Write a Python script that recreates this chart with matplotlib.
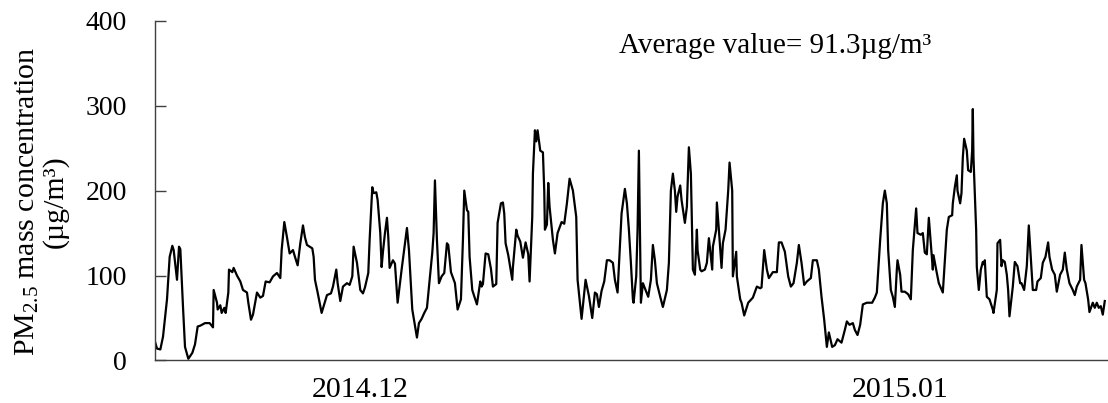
import matplotlib
matplotlib.use('Agg')
import matplotlib.pyplot as plt

# Stunden seit Messbeginn (Eckpunkte der Kurve)
hours = [0, 3, 8, 12, 18, 22, 26, 28, 33, 36, 38, 42, 45, 50, 56, 60, 64, 68, 75, 82,
         87, 88, 93, 94, 98, 100, 104, 106, 110, 111, 116, 118, 123, 128, 132, 138, 140, 144, 147, 153,
         158, 162, 166, 172, 177, 183, 188, 190, 194, 198, 202, 207, 210, 214, 218, 222, 225, 228, 236, 238,
         240, 244, 250, 258, 264, 267, 272, 274, 278, 282, 288, 292, 296, 298, 303, 308, 312, 315, 320, 322,
         326, 328, 332, 334, 338, 340, 342, 345, 348, 350, 352, 357, 360, 364, 370, 375, 378, 381, 386, 393,
         396, 400, 404, 408, 416, 418, 420, 423, 426, 430, 434, 438, 440, 444, 450, 454, 459, 462, 464, 468,
         470, 472, 476, 478, 483, 488, 490, 492, 496, 500, 504, 507, 512, 514, 519, 522, 524, 526, 530, 536,
         537, 542, 544, 548, 552, 556, 560, 562, 566, 567, 570, 572, 574, 578, 582, 584, 585, 588, 590, 592,
         597, 600, 604, 610, 614, 618, 622, 627, 632, 634, 640, 646, 651, 656, 660, 663, 666, 670, 674, 678,
         682, 687, 690, 694, 698, 700, 705, 708, 711, 714, 717, 718, 722, 724, 726, 729, 732, 736, 740, 744,
         747, 750, 753, 758, 762, 768, 771, 774, 777, 780, 782, 784, 788, 790, 795, 798, 800, 801, 804, 806,
         807, 810, 813, 814, 818, 820, 825, 828, 831, 836, 837, 842, 843, 846, 850, 852, 856, 860, 862, 866,
         867, 872, 873, 878, 880, 884, 890, 897, 903, 908, 910, 914, 918, 921, 927, 933, 936, 940, 945, 946,
         950, 954, 958, 963, 966, 970, 974, 978, 984, 987, 993, 996, 1000, 1004, 1008, 1011, 1016, 1020, 1024, 1030,
         1035, 1038, 1042, 1047, 1050, 1054, 1058, 1062, 1068, 1076, 1080, 1083, 1088, 1092, 1095, 1098, 1100, 1104, 1107, 1110,
         1113, 1114, 1118, 1120, 1125, 1130, 1134, 1137, 1142, 1144, 1149, 1152, 1155, 1158, 1161, 1164, 1167, 1168, 1172, 1176,
         1182, 1186, 1188, 1191, 1196, 1197, 1200, 1203, 1204, 1208, 1210, 1212, 1214, 1218, 1220, 1224, 1226, 1227, 1228, 1232,
         1233, 1236, 1239, 1242, 1244, 1245, 1248, 1252, 1257, 1258, 1263, 1264, 1268, 1270, 1272, 1275, 1278, 1280, 1282, 1287,
         1290, 1294, 1298, 1300, 1304, 1308, 1310, 1311, 1314, 1317, 1322, 1324, 1329, 1332, 1336, 1340, 1342, 1346, 1350, 1353,
         1358, 1362, 1365, 1368, 1372, 1377, 1380, 1383, 1388, 1390, 1394, 1396, 1400, 1402, 1407, 1410, 1413, 1416, 1419, 1422,
         1425]

# PM2.5 in µg/m³
pm25 = [22, 14, 13, 28, 72, 122, 135, 130, 95, 134, 131, 63, 16, 2, 9, 19, 40, 41, 44, 44,
        39, 83, 68, 60, 65, 56, 62, 56, 80, 107, 104, 109, 100, 93, 83, 80, 68, 48, 54, 80,
        74, 76, 93, 92, 99, 103, 97, 130, 163, 145, 126, 130, 122, 112, 138, 159, 145, 136, 132, 122,
        95, 80, 56, 77, 79, 87, 107, 91, 70, 87, 91, 89, 99, 134, 115, 83, 79, 86, 103, 142,
        204, 197, 198, 189, 150, 110, 128, 150, 168, 145, 109, 118, 114, 68, 107, 138, 156, 130, 60, 27,
        44, 49, 56, 62, 127, 150, 212, 142, 91, 99, 103, 138, 136, 104, 91, 60, 72, 142, 200, 177,
        175, 122, 83, 78, 66, 93, 87, 90, 126, 125, 108, 87, 90, 162, 185, 186, 173, 138, 124, 95,
        110, 154, 147, 140, 121, 139, 125, 93, 169, 220, 271, 258, 271, 247, 245, 200, 154, 160, 209, 181,
        142, 126, 150, 163, 161, 185, 214, 200, 169, 95, 49, 95, 76, 50, 80, 78, 63, 82, 93, 118,
        118, 115, 95, 80, 142, 173, 202, 185, 154, 115, 72, 68, 99, 154, 247, 68, 91, 83, 75, 95,
        136, 118, 91, 75, 63, 83, 115, 200, 220, 200, 175, 193, 206, 189, 162, 181, 228, 251, 220, 142,
        107, 101, 154, 130, 107, 105, 107, 115, 144, 107, 134, 154, 186, 154, 109, 138, 154, 200, 233, 200,
        99, 128, 99, 72, 68, 53, 68, 74, 87, 85, 86, 130, 107, 97, 104, 104, 139, 139, 128, 122,
        99, 87, 91, 115, 136, 115, 89, 93, 97, 118, 118, 107, 75, 48, 16, 33, 16, 18, 25, 21,
        36, 46, 42, 44, 36, 30, 42, 66, 68, 68, 74, 80, 142, 185, 200, 185, 130, 83, 75, 63,
        107, 118, 101, 81, 81, 78, 72, 130, 179, 150, 148, 150, 127, 125, 168, 138, 107, 124, 107, 91,
        80, 130, 154, 169, 171, 185, 204, 218, 200, 185, 197, 239, 261, 247, 224, 222, 247, 296, 239, 154,
        110, 83, 107, 116, 113, 118, 75, 72, 60, 56, 83, 138, 142, 111, 118, 116, 101, 83, 52, 87,
        116, 111, 91, 91, 83, 111, 142, 159, 122, 83, 83, 93, 97, 115, 122, 139, 122, 107, 101, 81,
        101, 107, 127, 107, 91, 83, 77, 87, 95, 136, 95, 91, 72, 57, 68, 62, 68, 62, 64, 54,
        70]

y_ticks = [0, 100, 200, 300, 400]
month_labels = ['2014.12', '2015.01']
month_pos = [308, 1118]  # Stunde unter der Beschriftung
mittelwert = 91.3

plt.rcParams['font.family'] = ['Liberation Serif', 'DejaVu Serif']
plt.rcParams['mathtext.fontset'] = 'custom'
plt.rcParams['mathtext.rm'] = 'Liberation Serif'
plt.rcParams['mathtext.default'] = 'rm'

fig = plt.figure(figsize=(11.08, 4.03), dpi=100)
ax = fig.add_axes([0.1399, 0.1055, 0.859, 0.8431])

ax.plot(hours, pm25, color='black', lw=1.6, solid_joinstyle='round')

ax.set_xlim(0, 1428)
ax.set_ylim(0, 400)
ax.set_yticks(y_ticks)
ax.tick_params(axis='y', direction='in', length=8, width=1, color='#404040',
               labelsize=20, pad=20)
ax.set_xticks(month_pos)
ax.set_xticklabels(month_labels)
ax.tick_params(axis='x', length=0, labelsize=21.5, pad=12)

for s in ['top', 'right']:
    ax.spines[s].set_visible(False)
for s in ['left', 'bottom']:
    ax.spines[s].set_color('#404040')
    ax.spines[s].set_linewidth(1)

fig.text(0.037, 0.5, 'PM$_{2.5}$ mass concentration\n(µg/m³)', rotation=90,
         ha='center', va='center', multialignment='center', fontsize=21.5,
         linespacing=1.05)

ax.text(0.488, 0.925, f'Average value= {mittelwert}µg/m³', transform=ax.transAxes,
        ha='left', va='center', fontsize=21)

fig.savefig('out.png', dpi=100)
